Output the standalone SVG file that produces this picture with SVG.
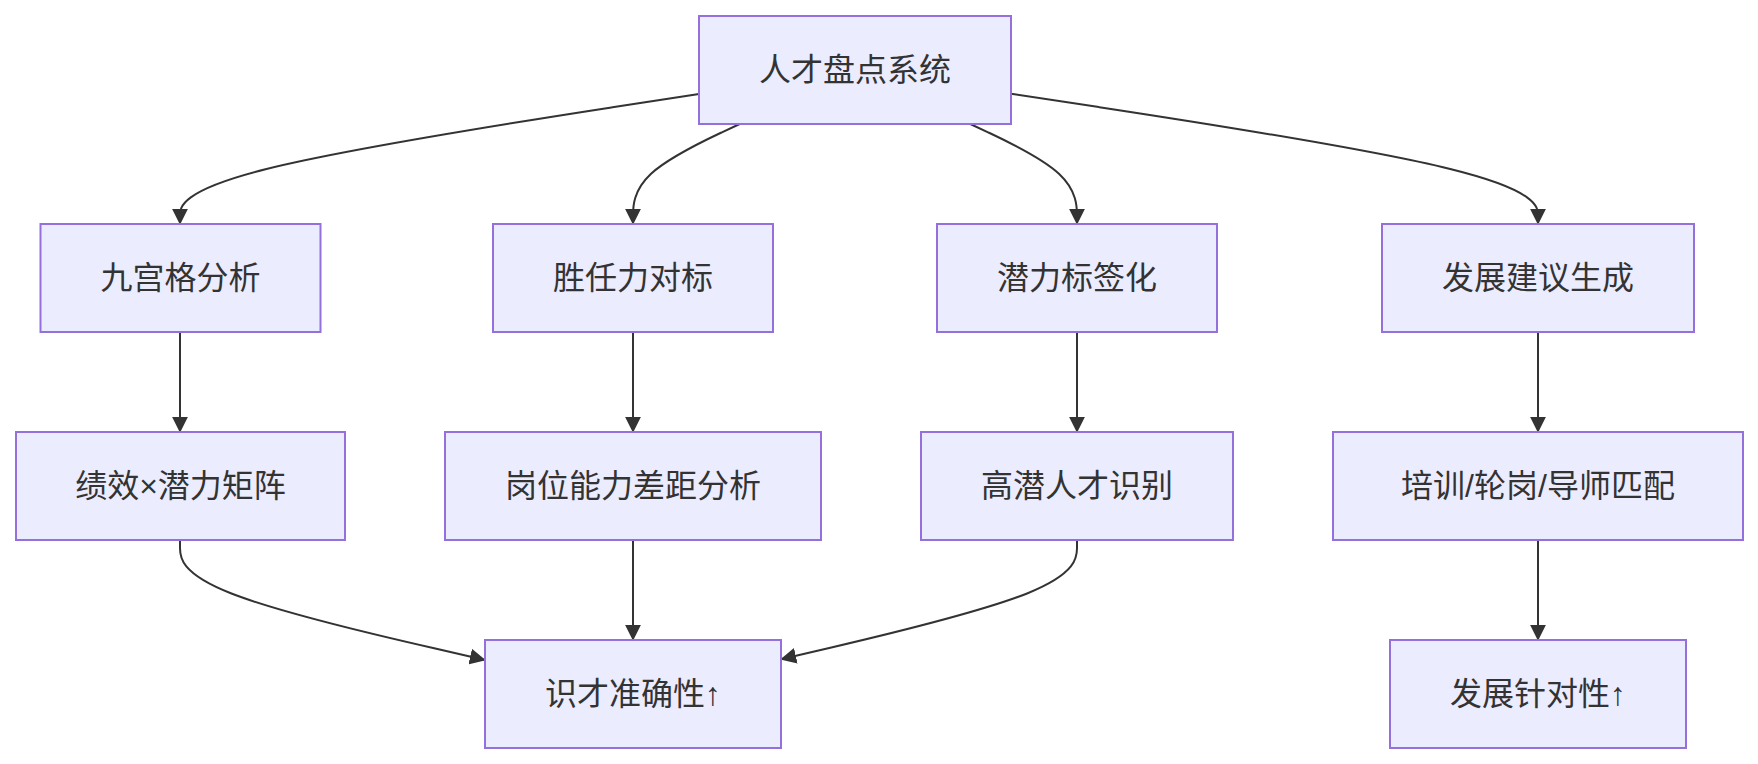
<svg xmlns="http://www.w3.org/2000/svg" width="1758" height="764" viewBox="0 0 1758 764">
<style>
.node rect{fill:#ECECFF;stroke:#9370DB;stroke-width:2}
.node text{font-family:"Liberation Sans","Noto Sans CJK SC",sans-serif;font-size:32px;fill:#333;text-anchor:middle;dominant-baseline:central}
.edges path{fill:none;stroke:#333;stroke-width:2;marker-end:url(#arr)}
</style>
<defs>
<marker id="arr" viewBox="0 0 10 10" refX="9.5" refY="5" markerWidth="16" markerHeight="16" markerUnits="userSpaceOnUse" orient="auto">
<path d="M0,0 L10,5 L0,10 z" fill="#333"/>
</marker>
</defs>
<rect width="1758" height="764" fill="#fff"/>
<g class="edges">
<path d="M699,94 L612.5,107.3 C526,120.7 353,147.3 266.5,169 C180,190.7 180,207.3 180,215.7 L180,224"/>
<path d="M739.7,124 L721.9,132.3 C704.1,140.7 668.6,157.3 650.8,174 C633,190.7 633,207.3 633,215.7 L633,224"/>
<path d="M970.3,124 L988.1,132.3 C1005.9,140.7 1041.4,157.3 1059.2,174 C1077,190.7 1077,207.3 1077,215.7 L1077,224"/>
<path d="M1011,93.75 L1098.8,107.1 C1186.7,120.5 1362.3,147.25 1450.2,169 C1538,190.7 1538,207.3 1538,215.7 L1538,224"/>
<path d="M180,332 L180,432"/>
<path d="M633,332 L633,432"/>
<path d="M1077,332 L1077,432"/>
<path d="M1538,332 L1538,432"/>
<path d="M180,540 L180,548.3 C180,556.7 180,573.3 230.8,593.3 C281.7,613.3 383.3,636.7 434.2,648.3 L485,660"/>
<path d="M633,540 L633,640"/>
<path d="M1077,540 L1077,548.3 C1077,556.7 1077,573.3 1027.7,593.2 C978.3,613.1 879.7,636.2 830.3,647.75 L781,659.3"/>
<path d="M1538,540 L1538,640"/>
</g>
<g id="n0" class="node"><rect x="699" y="16" width="312" height="108"/><text x="855" y="70">人才盘点系统</text></g>
<g id="nA" class="node"><rect x="40.5" y="224" width="280" height="108"/><text x="180.5" y="278">九宫格分析</text></g>
<g id="nB" class="node"><rect x="493" y="224" width="280" height="108"/><text x="633" y="278">胜任力对标</text></g>
<g id="nC" class="node"><rect x="937" y="224" width="280" height="108"/><text x="1077" y="278">潜力标签化</text></g>
<g id="nD" class="node"><rect x="1382" y="224" width="312" height="108"/><text x="1538" y="278">发展建议生成</text></g>
<g id="nA2" class="node"><rect x="16" y="432" width="329" height="108"/><text x="180.5" y="486">绩效×潜力矩阵</text></g>
<g id="nB2" class="node"><rect x="445" y="432" width="376" height="108"/><text x="633" y="486">岗位能力差距分析</text></g>
<g id="nC2" class="node"><rect x="921" y="432" width="312" height="108"/><text x="1077" y="486">高潜人才识别</text></g>
<g id="nD2" class="node"><rect x="1333" y="432" width="410" height="108"/><text x="1538" y="486">培训/轮岗/导师匹配</text></g>
<g id="nE" class="node"><rect x="485" y="640" width="296" height="108"/><text x="633" y="694">识才准确性↑</text></g>
<g id="nF" class="node"><rect x="1390" y="640" width="296" height="108"/><text x="1538" y="694">发展针对性↑</text></g>
</svg>
